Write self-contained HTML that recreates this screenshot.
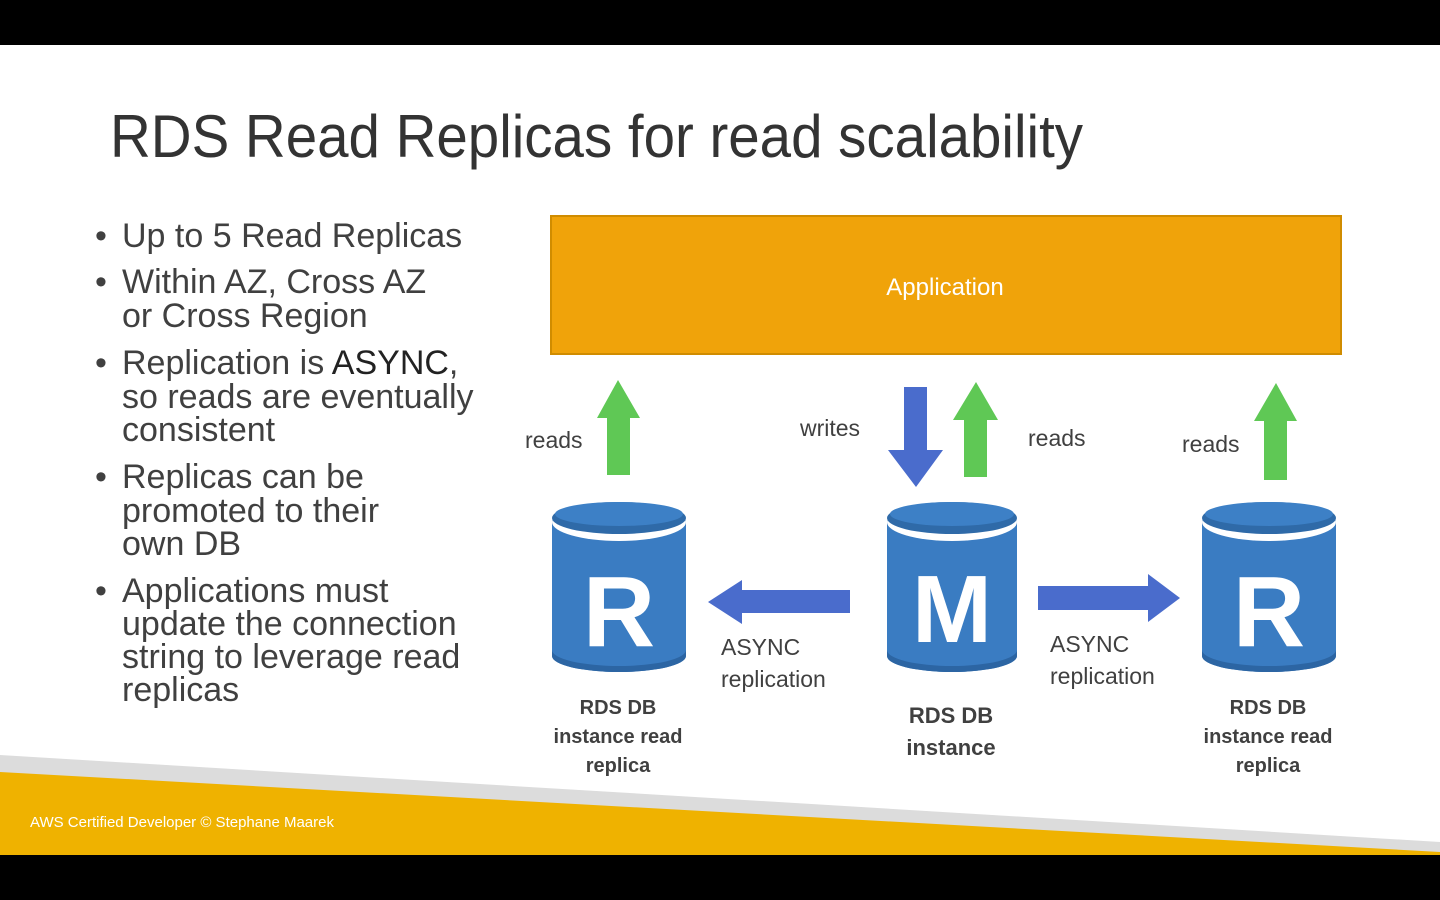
<!DOCTYPE html>
<html><head><meta charset="utf-8"><style>
html,body{margin:0;padding:0;width:1440px;height:900px;overflow:hidden;background:#000}
svg{display:block}
</style></head><body>
<svg width="1440" height="900" viewBox="0 0 1440 900" xmlns="http://www.w3.org/2000/svg">
<rect x="0" y="0" width="1440" height="900" fill="#000"/>
<rect x="0" y="45" width="1440" height="810" fill="#fff"/>
<polygon points="0,755 1440,842 1440,855 0,855" fill="#dcdcdc"/>
<polygon points="0,772 1440,852 1440,855 0,855" fill="#efb200"/>
<text x="30" y="827" font-family="Liberation Sans, sans-serif" font-size="15" fill="#fff">AWS Certified Developer © Stephane Maarek</text>
<text x="110" y="157" font-family="Liberation Sans, sans-serif" font-size="60" fill="#333" textLength="973" lengthAdjust="spacingAndGlyphs">RDS Read Replicas for read scalability</text>
<g font-family="Liberation Sans, sans-serif" font-size="34" fill="#404040">
<text x="95" y="247">•</text><text x="122" y="247">Up to 5 Read Replicas</text>
<text x="95" y="293">•</text><text x="122" y="293">Within AZ, Cross AZ</text>
<text x="122" y="327">or Cross Region</text>
<text x="95" y="374">•</text><text x="122" y="374">Replication is <tspan fill="#222">ASYNC</tspan>,</text>
<text x="122" y="408">so reads are eventually</text>
<text x="122" y="441">consistent</text>
<text x="95" y="488">•</text><text x="122" y="488">Replicas can be</text>
<text x="122" y="522">promoted to their</text>
<text x="122" y="555">own DB</text>
<text x="95" y="602">•</text><text x="122" y="602">Applications must</text>
<text x="122" y="635">update the connection</text>
<text x="122" y="668">string to leverage read</text>
<text x="122" y="701">replicas</text>
</g>
<rect x="551" y="216" width="790" height="138" fill="#f0a30a" stroke="#d08c00" stroke-width="2"/>
<text x="945" y="295" text-anchor="middle" font-family="Liberation Sans, sans-serif" font-size="24" fill="#fff">Application</text>
<g fill="#5fc855">
<polygon points="607,475 630,475 630,418 640,418 618,380 597,418 607,418"/>
<polygon points="964,477 987,477 987,420 998,420 976,382 953,420 964,420"/>
<polygon points="1264,480 1287,480 1287,421 1297,421 1276,383 1254,421 1264,421"/>
</g>
<g fill="#4a6ccc">
<polygon points="904,387 927,387 927,450 943,450 916,487 888,450 904,450"/>
<polygon points="850,590 742,590 742,580 708,602 742,624 742,613 850,613"/>
<polygon points="1038,586 1148,586 1148,574 1180,598 1148,622 1148,610 1038,610"/>
</g>
<g font-family="Liberation Sans, sans-serif" font-size="23" fill="#404040">
<text x="525" y="448">reads</text>
<text x="800" y="436">writes</text>
<text x="1028" y="446">reads</text>
<text x="1182" y="452">reads</text>
<text x="721" y="655">ASYNC</text><text x="721" y="687">replication</text>
<text x="1050" y="652">ASYNC</text><text x="1050" y="684">replication</text>
</g>
<g>
<path d="M552,520 L552,656 A67,16 0 0 0 686,656 L686,520 Z" fill="#3a7cc2"/>
<path d="M552,650 A67,16 0 0 0 686,650 L686,656 A67,16 0 0 1 552,656 Z" fill="#2c65a3"/>
<ellipse cx="619" cy="522" rx="67" ry="19" fill="#fff"/>
<ellipse cx="619" cy="518" rx="67" ry="16" fill="#2f6aa8"/>
<ellipse cx="619" cy="514" rx="64" ry="12" fill="#3d80c6"/>
<text x="619" y="646" text-anchor="middle" font-family="Liberation Sans, sans-serif" font-weight="bold" font-size="100" fill="#fff">R</text>
</g>
<g>
<path d="M887,520 L887,656 A65,16 0 0 0 1017,656 L1017,520 Z" fill="#3a7cc2"/>
<path d="M887,650 A65,16 0 0 0 1017,650 L1017,656 A65,16 0 0 1 887,656 Z" fill="#2c65a3"/>
<ellipse cx="952" cy="522" rx="65" ry="19" fill="#fff"/>
<ellipse cx="952" cy="518" rx="65" ry="16" fill="#2f6aa8"/>
<ellipse cx="952" cy="514" rx="62" ry="12" fill="#3d80c6"/>
<text x="952" y="642" text-anchor="middle" font-family="Liberation Sans, sans-serif" font-weight="bold" font-size="96" fill="#fff">M</text>
</g>
<g>
<path d="M1202,520 L1202,656 A67,16 0 0 0 1336,656 L1336,520 Z" fill="#3a7cc2"/>
<path d="M1202,650 A67,16 0 0 0 1336,650 L1336,656 A67,16 0 0 1 1202,656 Z" fill="#2c65a3"/>
<ellipse cx="1269" cy="522" rx="67" ry="19" fill="#fff"/>
<ellipse cx="1269" cy="518" rx="67" ry="16" fill="#2f6aa8"/>
<ellipse cx="1269" cy="514" rx="64" ry="12" fill="#3d80c6"/>
<text x="1269" y="646" text-anchor="middle" font-family="Liberation Sans, sans-serif" font-weight="bold" font-size="100" fill="#fff">R</text>
</g>
<g font-family="Liberation Sans, sans-serif" font-weight="bold" font-size="20" fill="#404040" text-anchor="middle">
<text x="618" y="714">RDS DB</text><text x="618" y="743">instance read</text><text x="618" y="772">replica</text>
<text x="951" y="723" font-size="22">RDS DB</text><text x="951" y="755" font-size="22">instance</text>
<text x="1268" y="714">RDS DB</text><text x="1268" y="743">instance read</text><text x="1268" y="772">replica</text>
</g>
</svg>
</body></html>
